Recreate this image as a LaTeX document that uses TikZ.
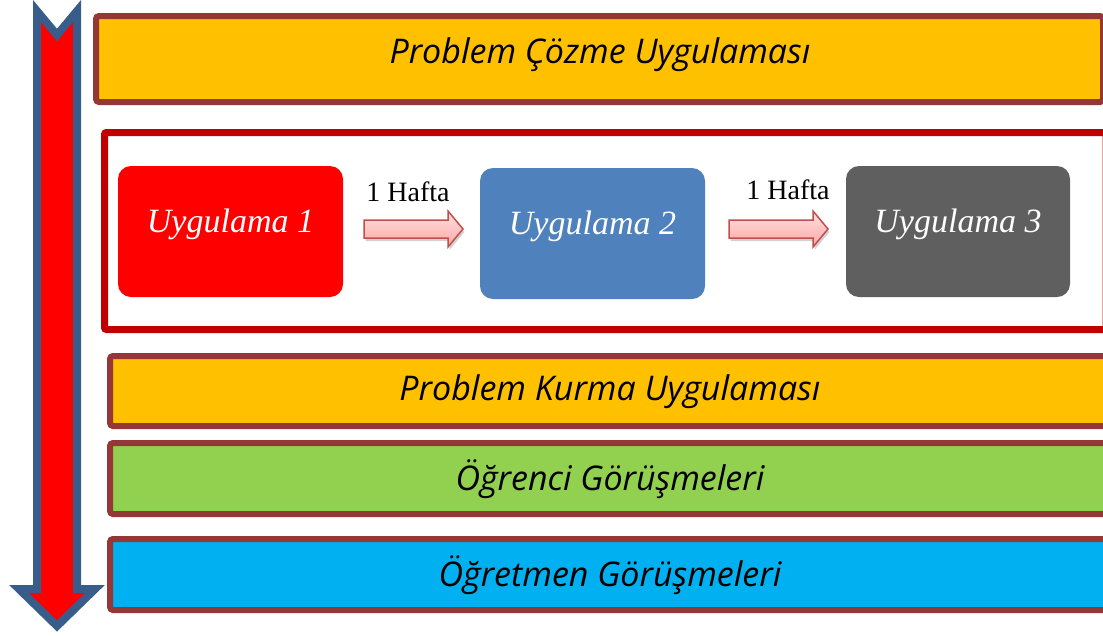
\documentclass[tikz,border=0pt]{standalone}
\usepackage{fontspec}
\setmainfont{Liberation Serif}
\newfontfamily\barfont{Open Sans}
\usetikzlibrary{shadows}
\definecolor{barborder}{HTML}{953735}
\definecolor{baryellow}{HTML}{FFC000}
\definecolor{bargreen}{HTML}{92D050}
\definecolor{barblue}{HTML}{00B0F0}
\definecolor{framered}{HTML}{C00000}
\definecolor{uone}{HTML}{FF0000}
\definecolor{utwo}{HTML}{4F81BD}
\definecolor{uthree}{HTML}{5F5F5F}
\definecolor{arrowblue}{HTML}{385D8A}
\definecolor{pinkedge}{HTML}{C0504D}
\tikzset{
  bar/.style={draw=barborder, line width=6pt, rounded corners=3pt},
  bartext/.style={font=\barfont\itshape\fontsize{34}{38}\selectfont, text=black},
  ubox/.style={rounded corners=13pt, text=white, font=\itshape\fontsize{34}{36}\selectfont},
  weektext/.style={font=\fontsize{28}{30}\selectfont, text=black},
  pinkarrow/.style={draw=pinkedge, line width=1.5pt, top color=red!12, bottom color=red!35,
    drop shadow={shadow xshift=1.5pt, shadow yshift=-3pt, opacity=0.35}}
}
\begin{document}
\begin{tikzpicture}[x=1pt,y=-1pt]
\useasboundingbox (0,0) rectangle (1103,635);
\clip (0,0) rectangle (1103,635);
% bars
\draw[bar, fill=baryellow] (96,16) rectangle (1103,102);
\node[bartext] (b1) at (600,55) {Problem Çözme Uygulaması};
\draw[bar, fill=baryellow] (110,356) rectangle (1112,426);
\node[bartext] (b2) at (610,392) {Problem Kurma Uygulaması};
\draw[bar, fill=bargreen] (110,443) rectangle (1112,514);
\node[bartext] (b3) at (610,479) {Öğrenci Görüşmeleri};
\draw[bar, fill=barblue] (110,539) rectangle (1112,610);
\node[bartext] (b4) at (610,575) {Öğretmen Görüşmeleri};
% middle frame
\draw[draw=framered, line width=7pt, rounded corners=2pt, fill=white] (104.5,132.5) rectangle (1106,329.5);
% application boxes
\fill[uone, rounded corners=13pt] (118,166) rectangle (343,297);
\node[ubox] (u1) at (230.5,224) {Uygulama 1};
\fill[utwo, rounded corners=13pt] (480,168) rectangle (705,299);
\node[ubox] (u2) at (592.5,226) {Uygulama 2};
\fill[uthree, rounded corners=13pt] (846,166) rectangle (1070,297);
\node[ubox] (u3) at (958,224) {Uygulama 3};
% week arrows
\path[pinkarrow] (364,220) -- (448,220) -- (448,211) -- (463,229) -- (448,247) -- (448,238) -- (364,238) -- cycle;
\node[weektext] (w1) at (408,192) {1 Hafta};
\path[pinkarrow] (729,220) -- (813,220) -- (813,211) -- (828,229) -- (813,247) -- (813,238) -- (729,238) -- cycle;
\node[weektext] (w2) at (788,190) {1 Hafta};
% big left arrow
\draw[arrowblue, line width=8pt, fill=uone, miter limit=10]
  (37,11) -- (57,35) -- (77,11) -- (77,589) -- (95,589) -- (57,626) -- (19,589) -- (37,589) -- cycle;
\end{tikzpicture}
\end{document}
